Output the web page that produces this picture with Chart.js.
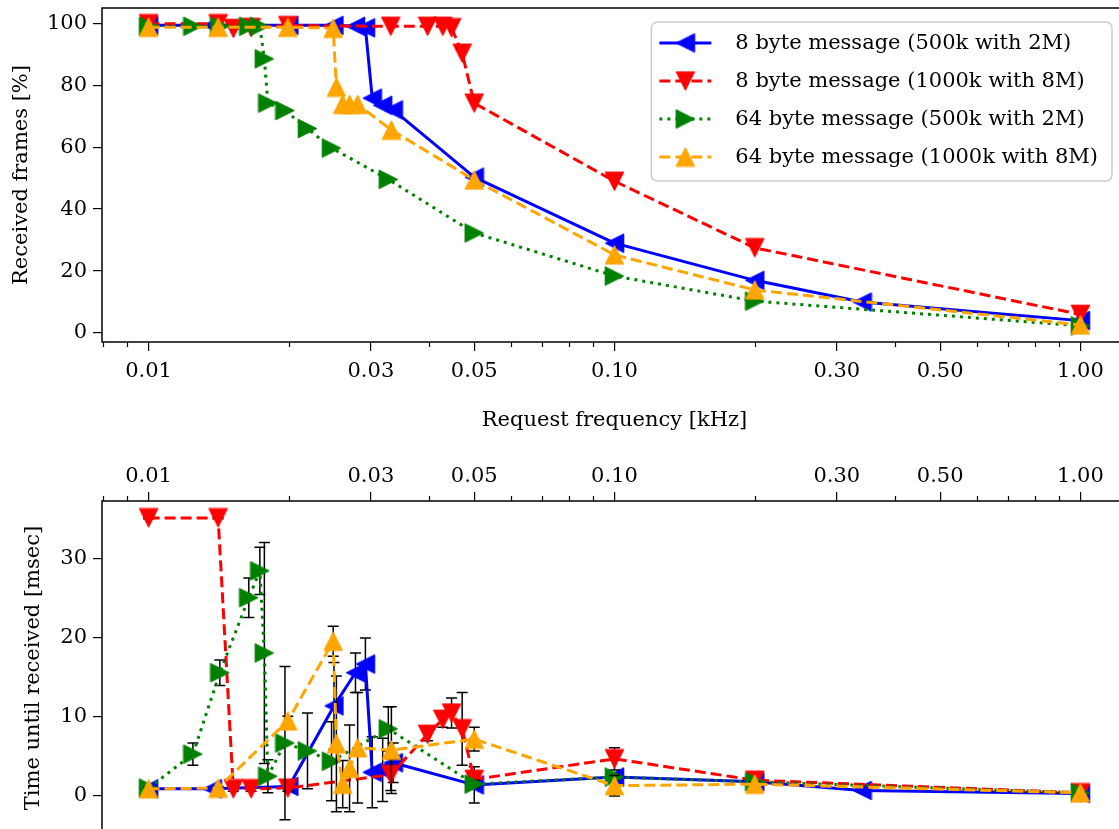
<!DOCTYPE html>
<html><head><meta charset="utf-8">
<script src="https://cdn.jsdelivr.net/npm/chart.js@4.4.1/dist/chart.umd.min.js"></script>
<style>
html,body{margin:0;padding:0;background:#fff;overflow:hidden;}
#wrap{position:relative;width:1119px;height:829px;overflow:hidden;background:#fff;}
#topChart{position:absolute;left:0;top:0;}
#botChart{position:absolute;left:0;top:426px;}
</style></head><body>
<div id="wrap"><canvas id="topChart" width="1140" height="460"></canvas><canvas id="botChart" width="1140" height="425"></canvas></div>
<script>
// ---------- data ----------
const xTickValues = [0.01, 0.03, 0.05, 0.1, 0.3, 0.5, 1.0];
const xTickLabels = ['0.01', '0.03', '0.05', '0.10', '0.30', '0.50', '1.00'];
const xMinorTicks = [0.008, 0.009, 0.02, 0.04, 0.06, 0.07, 0.08, 0.09, 0.2, 0.4, 0.6, 0.7, 0.8, 0.9];
const topYTicks = [0, 20, 40, 60, 80, 100];
const botYTicks = [0, 10, 20, 30];

const seriesLabels = [
  '8 byte message (500k with 2M)',
  '8 byte message (1000k with 8M)',
  '64 byte message (500k with 2M)',
  '64 byte message (1000k with 8M)'
];

const blueFreq     = [0.01, 0.0137, 0.02, 0.025, 0.0278, 0.0292, 0.0302, 0.0318, 0.0335, 0.05, 0.1, 0.2, 0.34, 1.0];
const blueReceived = [99.3, 99.3, 99.3, 99.3, 99.0, 98.5, 75.8, 73.5, 72.0, 50.3, 29.0, 17.0, 10.0, 4.0];
const blueTime     = [0.9, 0.9, 1.2, 11.4, 15.6, 16.7, 3.0, 3.3, 4.2, 1.4, 2.4, 1.8, 0.7, 0.3];
const blueTimeErr  = [0.2, 0.2, 0.4, 5.5, 2.5, 3.3, 4.5, 4.0, 2.5, 2.3, 0.3, 0.2, 0.2, 0.1];

const redFreq      = [0.01, 0.0141, 0.0152, 0.0166, 0.0199, 0.0331, 0.0397, 0.0428, 0.0447, 0.0471, 0.05, 0.1, 0.2, 1.0];
const redReceived  = [99.8, 99.8, 98.3, 98.6, 99.2, 99.0, 99.0, 99.0, 98.5, 90.3, 74.2, 49.0, 27.5, 6.0];
const redTime      = [35.2, 35.2, 0.9, 0.9, 1.0, 2.7, 7.8, 9.7, 10.5, 8.5, 2.1, 4.7, 2.0, 0.4];
const redTimeErr   = [0.1, 0.1, 0.3, 0.3, 0.4, 2.0, 0.8, 1.0, 1.9, 4.6, 1.0, 1.4, 0.3, 0.1];

const greenFreq     = [0.01, 0.01245, 0.01422, 0.01641, 0.01733, 0.01772, 0.01803, 0.01962, 0.02193, 0.0247, 0.0327, 0.05, 0.1, 0.2, 1.0];
const greenReceived = [99.0, 99.0, 99.0, 99.0, 99.0, 88.5, 74.2, 71.8, 66.0, 59.7, 49.6, 32.3, 18.4, 10.3, 2.3];
const greenTime     = [1.0, 5.3, 15.6, 25.1, 28.5, 18.1, 2.5, 6.7, 5.7, 4.4, 8.5, 1.5, 2.4, 1.8, 0.4];
const greenTimeErr  = [0.2, 1.4, 1.6, 2.5, 3.0, 14.0, 2.1, 9.7, 4.8, 5.0, 2.8, 0.5, 0.4, 0.2, 0.1];

const orangeFreq     = [0.01, 0.0141, 0.0199, 0.0249, 0.0253, 0.0261, 0.0270, 0.0281, 0.0332, 0.05, 0.1, 0.2, 1.0];
const orangeReceived = [98.7, 98.7, 98.7, 98.4, 79.4, 73.8, 73.8, 73.8, 65.5, 49.4, 25.2, 13.9, 2.6];
const orangeTime     = [0.9, 1.0, 9.5, 19.6, 6.6, 1.5, 3.5, 6.1, 5.8, 7.2, 1.3, 1.5, 0.4];
const orangeTimeErr  = [0.2, 0.2, 0.6, 1.9, 8.6, 3.0, 5.5, 7.0, 5.5, 1.5, 1.3, 0.3, 0.1];

// ---------- styling ----------
const FONT = 'DejaVu Serif';
const FS = 21;
const X_MIN = Math.pow(10, -2.1), X_MAX = Math.pow(10, 0.1);

function makeMarker(color, dir) {
  const s = 21, c = document.createElement('canvas');
  c.width = s; c.height = s;
  const g = c.getContext('2d');
  const a = 1.2, b = s - 1.2, m = s / 2;
  const pts = {
    up: [[m, a], [a, b], [b, b]],
    down: [[a, a], [b, a], [m, b]],
    left: [[a, m], [b, a], [b, b]],
    right: [[a, a], [a, b], [b, m]]
  }[dir];
  g.beginPath(); g.moveTo(pts[0][0], pts[0][1]); g.lineTo(pts[1][0], pts[1][1]); g.lineTo(pts[2][0], pts[2][1]); g.closePath();
  g.fillStyle = color; g.fill();
  g.strokeStyle = color; g.lineWidth = 1; g.stroke();
  return c;
}

const styles = [
  {color: '#0000ff', dash: [], marker: 'left', order: 4},
  {color: '#ff0000', dash: [11, 5], marker: 'down', order: 3},
  {color: '#008000', dash: [3, 5], marker: 'right', order: 2},
  {color: '#ffa500', dash: [11, 5], marker: 'up', order: 1}
];
styles.forEach(s => s.img = makeMarker(s.color, s.marker));

const freqs = [blueFreq, redFreq, greenFreq, orangeFreq];
const received = [blueReceived, redReceived, greenReceived, orangeReceived];
const times = [blueTime, redTime, greenTime, orangeTime];
const timeErrs = [blueTimeErr, redTimeErr, greenTimeErr, orangeTimeErr];

function makeDatasets(values) {
  return styles.map((s, i) => ({
    label: seriesLabels[i],
    data: freqs[i].map((f, j) => ({x: f, y: values[i][j]})),
    borderColor: s.color,
    backgroundColor: s.color,
    borderWidth: 3,
    borderDash: s.dash,
    borderCapStyle: 'butt',
    borderJoinStyle: 'round',
    pointStyle: s.img,
    pointRadius: 10,
    pointHoverRadius: 10,
    tension: 0,
    fill: false,
    order: s.order
  }));
}

// ---------- plugins ----------
const framePlugin = {
  id: 'frame',
  afterDraw(chart) {
    const {ctx, chartArea: a} = chart;
    ctx.save();
    ctx.strokeStyle = '#000'; ctx.lineWidth = 1.5;
    ctx.strokeRect(a.left, a.top, a.right - a.left, a.bottom - a.top);
    ctx.restore();
  }
};

const minorTickPlugin = {
  id: 'minorTicks',
  afterDraw(chart) {
    const sc = chart.scales.x, a = chart.chartArea, ctx = chart.ctx;
    const atTop = sc.position === 'top';
    const y0 = atTop ? a.top : a.bottom;
    const y1 = atTop ? y0 - 5 : y0 + 5;
    ctx.save();
    ctx.strokeStyle = '#000'; ctx.lineWidth = 1.2;
    xMinorTicks.forEach(v => {
      if (v < sc.min || v > sc.max) return;
      const px = Math.round(sc.getPixelForValue(v)) + 0.5;
      ctx.beginPath(); ctx.moveTo(px, y0); ctx.lineTo(px, y1); ctx.stroke();
    });
    ctx.restore();
  }
};

const errorBarPlugin = {
  id: 'errorBars',
  beforeDatasetDraw(chart, args) {
    const i = args.index;
    const errs = timeErrs[i];
    const xs = chart.scales.x, ys = chart.scales.y, a = chart.chartArea, ctx = chart.ctx;
    ctx.save();
    ctx.beginPath(); ctx.rect(a.left, a.top, a.right - a.left, a.bottom - a.top); ctx.clip();
    ctx.strokeStyle = '#000'; ctx.lineWidth = 1.5; ctx.setLineDash([]);
    freqs[i].forEach((f, j) => {
      const v = times[i][j], e = errs[j];
      const px = xs.getPixelForValue(f);
      const yt = ys.getPixelForValue(v + e), yb = ys.getPixelForValue(v - e);
      ctx.beginPath();
      ctx.moveTo(px, yt); ctx.lineTo(px, yb);
      ctx.moveTo(px - 5.5, yt); ctx.lineTo(px + 5.5, yt);
      ctx.moveTo(px - 5.5, yb); ctx.lineTo(px + 5.5, yb);
      ctx.stroke();
    });
    ctx.restore();
  }
};

const legendPlugin = {
  id: 'boxLegend',
  afterDraw(chart) {
    const {ctx, chartArea: a} = chart;
    ctx.save();
    ctx.font = FS + 'px "' + FONT + '"';
    const tw = Math.max(...seriesLabels.map(t => ctx.measureText(t).width));
    const right = a.right - 15, top = a.top + 14;
    const left = right - 12 - tw - 86;
    const h = 159;
    ctx.beginPath();
    ctx.roundRect(left, top, right - left, h, 6);
    ctx.fillStyle = 'rgba(255,255,255,0.8)'; ctx.fill();
    ctx.strokeStyle = '#cccccc'; ctx.lineWidth = 1.5; ctx.stroke();
    styles.forEach((s, i) => {
      const cy = top + 21 + i * 38;
      ctx.strokeStyle = s.color; ctx.lineWidth = 3; ctx.lineCap = 'butt';
      ctx.setLineDash(s.dash);
      ctx.beginPath(); ctx.moveTo(left + 8, cy); ctx.lineTo(left + 60, cy); ctx.stroke();
      ctx.setLineDash([]);
      ctx.drawImage(s.img, left + 34 - s.img.width / 2, cy - s.img.height / 2);
      ctx.fillStyle = '#000'; ctx.textBaseline = 'middle'; ctx.textAlign = 'left';
      ctx.fillText(seriesLabels[i], left + 84, cy + 1);
    });
    ctx.restore();
  }
};

function xScale(position, height, showTitle) {
  return {
    type: 'logarithmic', position, min: X_MIN, max: X_MAX, bounds: 'data',
    afterBuildTicks: s => { s.ticks = xTickValues.map(v => ({value: v})); },
    afterFit: s => { s.height = height; s.paddingLeft = 0; s.paddingRight = 0; },
    ticks: {
      callback: (v, i) => xTickLabels[i],
      autoSkip: false, maxRotation: 0, minRotation: 0,
      font: {family: FONT, size: FS}, color: '#000', padding: position === 'top' ? 3 : 8
    },
    grid: {drawOnChartArea: false, tickLength: 9, color: '#000', lineWidth: 1.2},
    border: {display: false},
    title: {display: showTitle, text: 'Request frequency [kHz]', color: '#000',
            font: {family: FONT, size: FS}, padding: {top: 0, bottom: 27}}
  };
}

function yScale(min, max, ticks, title, titlePad) {
  return {
    type: 'linear', min, max,
    afterBuildTicks: s => { s.ticks = ticks.map(v => ({value: v})); },
    afterFit: s => { s.width = 102; s.paddingTop = 0; s.paddingBottom = 0; },
    ticks: {callback: v => String(v), font: {family: FONT, size: FS}, color: '#000', padding: 6},
    grid: {drawOnChartArea: false, tickLength: 9, color: '#000', lineWidth: 1.2},
    border: {display: false},
    title: {display: true, text: title, color: '#000', font: {family: FONT, size: FS},
            padding: {top: titlePad, bottom: 0}}
  };
}

const common = {
  responsive: false, maintainAspectRatio: false, animation: false, devicePixelRatio: 1, events: [],
  plugins: {legend: {display: false}, tooltip: {enabled: false}}
};

// target page geometry of the upper plot frame
const TOP_FRAME_TOP = 8, TOP_FRAME_BOTTOM = 342, TOP_XAXIS_H = 118;

const topCanvas = document.getElementById('topChart');
function buildTop() {
  return new Chart(topCanvas, {
    type: 'line',
    data: {datasets: makeDatasets(received)},
    options: Object.assign({}, common, {
      layout: {padding: {top: TOP_FRAME_TOP, bottom: 0, left: 0, right: 12}},
      scales: {
        x: xScale('bottom', TOP_XAXIS_H, true),
        y: yScale(-2.9, 104.9, topYTicks, 'Received frames [%]', 9)
      }
    }),
    plugins: [framePlugin, minorTickPlugin, legendPlugin]
  });
}
let topChart = buildTop();
// compensate for any extra top padding the layout adds
(function () {
  const shift = topChart.chartArea.top - TOP_FRAME_TOP;
  if (Math.abs(shift) > 0.2) {
    topChart.destroy();
    topCanvas.width = 1140;
    topCanvas.height = Math.round(TOP_FRAME_BOTTOM + shift + TOP_XAXIS_H);
    topCanvas.style.width = '1140px';
    topCanvas.style.height = topCanvas.height + 'px';
    topCanvas.style.top = (-shift) + 'px';
    topChart = buildTop();
  }
})();

new Chart(document.getElementById('botChart'), {
  type: 'line',
  data: {datasets: makeDatasets(times)},
  options: Object.assign({}, common, {
    layout: {padding: {top: 0, bottom: 16, left: 0, right: 12}},
    scales: {
      x: xScale('top', 75, false),
      y: yScale(-4.94, 37.34, botYTicks, 'Time until received [msec]', 21)
    }
  }),
  plugins: [errorBarPlugin, framePlugin, minorTickPlugin]
});
</script>
</body></html>
